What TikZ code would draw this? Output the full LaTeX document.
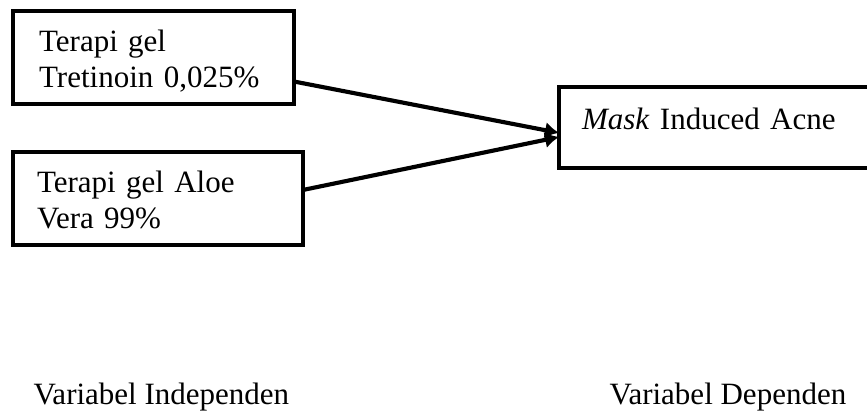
\documentclass[tikz,border=0pt]{standalone}
\usepackage{fontspec}
\setmainfont{Liberation Serif}
\usetikzlibrary{arrows.meta,positioning}

\begin{document}
\begin{tikzpicture}[x=0.387pt,y=-0.387pt,
    every node/.style={font=\fontsize{12pt}{14.3pt}\selectfont},
    varbox/.style={draw=black,line width=1.5pt,outer sep=0pt,inner ysep=0pt,align=left,anchor=north west},
    varlabel/.style={inner sep=0pt,anchor=base west},
    arrow/.style={-{Latex[length=5.4pt,width=6.4pt]},line width=1.6pt}]
   \useasboundingbox (0,0) rectangle (867,417);
   \node[varbox,text width=88.6pt,inner xsep=10.1pt,text height=15.5pt,text depth=20.5pt] (Tret) at (13,11) {Terapi gel\\Tretinoin 0,025\%};
    \node[varbox,text width=93.6pt,inner xsep=9.3pt,text height=15.5pt,text depth=20.5pt] (Aloe) at (13,152) {Terapi gel Aloe\\Vera 99\%};
    \node[varbox,text width=106pt,inner xsep=8.9pt,text height=16.6pt,text depth=14.7pt] (MIA) at (559,87) {\textit{Mask} Induced Acne};
    \node[varlabel] (VI) at (33,405) {Variabel Independen};
    \node[varlabel] (VD) at (609,405) {Variabel Dependen};
    \path [arrow]([yshift=-9.3pt]Tret.east) edge ([yshift=-2.1pt]MIA.west);
    \path [arrow]([yshift=3.3pt]Aloe.east) edge ([yshift=-3.7pt]MIA.west);
\end{tikzpicture}
\end{document}
